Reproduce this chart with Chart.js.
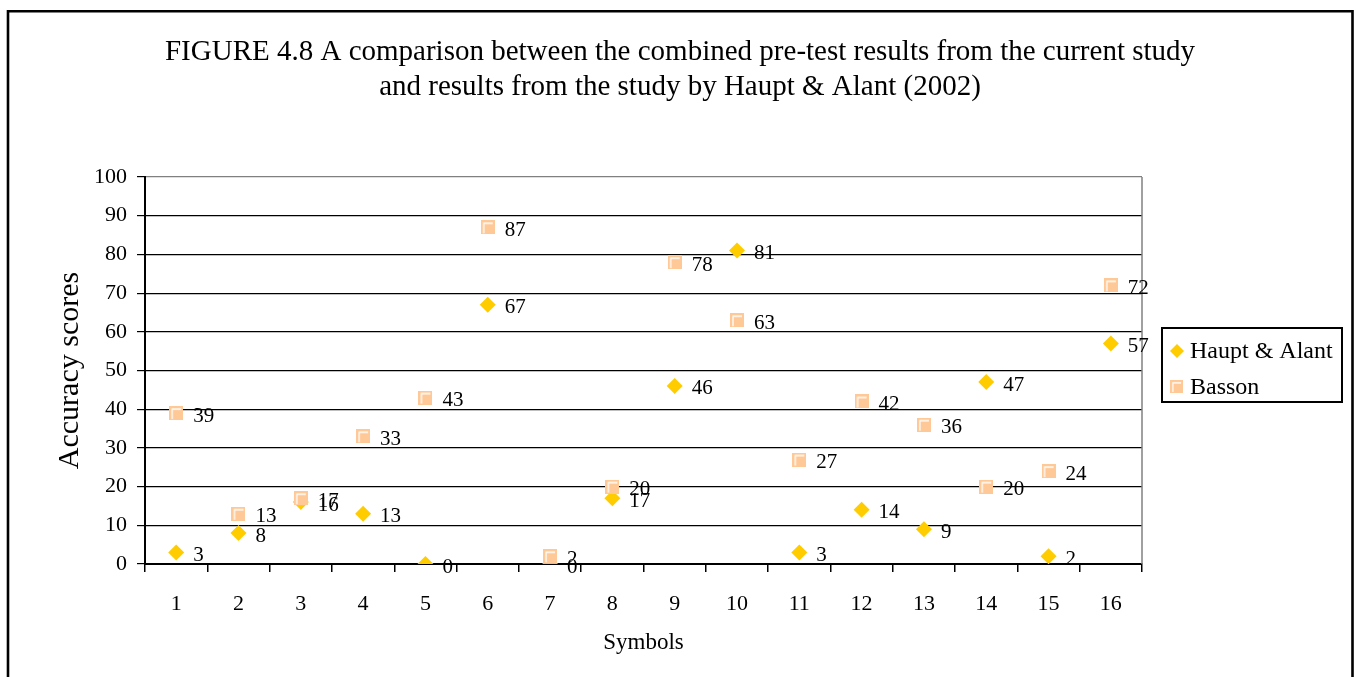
<!DOCTYPE html>
<html>
<head>
<meta charset="utf-8">
<script src="https://cdn.jsdelivr.net/npm/chart.js@4.4.0/dist/chart.umd.min.js"></script>
<style>
  html, body { margin: 0; padding: 0; background: #fff; }
  canvas { display: block; }
</style>
</head>
<body>
<canvas id="chart" width="1356" height="677"></canvas>
<script>
// data
const symbols = ['1', '2', '3', '4', '5', '6', '7', '8', '9', '10', '11', '12', '13', '14', '15', '16'];
const hauptAlant = [3, 8, 16, 13, 0, 67, 0, 17, 46, 81, 3, 14, 9, 47, 2, 57];
const basson = [39, 13, 17, 33, 43, 87, 2, 20, 78, 63, 27, 42, 36, 20, 24, 72];
const yTickValues = [0, 10, 20, 30, 40, 50, 60, 70, 80, 90, 100];
const titleLines = [
    'FIGURE 4.8 A comparison between the combined pre-test results from the current study',
    'and results from the study by Haupt & Alant (2002)'
];

const serif = '"Liberation Serif", "Times New Roman", Times, serif';

// peach square with the little white bevel line
function bassonMarker(){
    let c = document.createElement('canvas');
    c.width = 14; c.height = 14;
    let g = c.getContext('2d');
    g.fillStyle = '#FFC997';
    g.fillRect(0, 0, 14, 14);
    g.strokeStyle = '#ffffff';
    g.lineWidth = 1.3;
    g.beginPath();
    g.moveTo(3, 13);
    g.lineTo(3, 3);
    g.lineTo(12, 3);
    g.stroke();
    return c;
}
const squareImg = bassonMarker();

const pageFrame = {
    id: 'pageFrame',
    beforeDraw(chart){
        const ctx = chart.ctx;
        ctx.save();
        ctx.fillStyle = '#fff';
        ctx.fillRect(0, 0, chart.width, chart.height);
        ctx.strokeStyle = '#000';
        ctx.lineWidth = 2.6;
        ctx.beginPath();
        ctx.moveTo(8, chart.height + 2);
        ctx.lineTo(8, 11.3);
        ctx.lineTo(1352.5, 11.3);
        ctx.lineTo(1352.5, chart.height + 2);
        ctx.stroke();

        // figure title, centred on the page rather than the plot
        ctx.font = '29px ' + serif;
        ctx.fillStyle = '#000';
        ctx.textAlign = 'center';
        ctx.textBaseline = 'middle';
        titleLines.forEach((t, i) => ctx.fillText(t, 680, 52 + i * 35));
        ctx.restore();
    },
    beforeDatasetsDraw(chart){
        // grey right edge of the plot area
        const a = chart.chartArea;
        const ctx = chart.ctx;
        ctx.save();
        ctx.strokeStyle = '#808080';
        ctx.lineWidth = 1.5;
        ctx.beginPath();
        ctx.moveTo(a.right, a.top);
        ctx.lineTo(a.right, a.bottom);
        ctx.stroke();
        ctx.restore();
    }
};

const valueLabels = {
    id: 'valueLabels',
    afterDatasetsDraw(chart){
        const ctx = chart.ctx;
        ctx.save();
        ctx.font = '21px ' + serif;
        ctx.fillStyle = '#000';
        ctx.textAlign = 'left';
        ctx.textBaseline = 'middle';
        chart.data.datasets.forEach((ds, di) => {
            const meta = chart.getDatasetMeta(di);
            meta.data.forEach((pt, i) => {
                ctx.fillText(String(ds.data[i]), pt.x + 17, pt.y + 3);
            });
        });
        ctx.restore();
    }
};

const boxedLegend = {
    id: 'boxedLegend',
    afterDraw(chart){
        const ctx = chart.ctx;
        const left = 1162, top = 328, right = 1342, bottom = 402;
        ctx.save();
        ctx.strokeStyle = '#000';
        ctx.lineWidth = 2;
        ctx.strokeRect(left, top, right - left, bottom - top);
        ctx.font = '24px ' + serif;
        ctx.textBaseline = 'middle';
        chart.data.datasets.forEach((ds, i) => {
            const y = 351 + i * 36;
            if (ds.pointStyle === 'rectRot') {
                ctx.fillStyle = ds.backgroundColor;
                ctx.beginPath();
                ctx.moveTo(1177, y - 7);
                ctx.lineTo(1184, y);
                ctx.lineTo(1177, y + 7);
                ctx.lineTo(1170, y);
                ctx.closePath();
                ctx.fill();
            } else {
                ctx.drawImage(ds.pointStyle, 1170, y - 7, 13, 13);
            }
            ctx.fillStyle = '#000';
            ctx.fillText(ds.label, 1190, y + 1);
        });
        ctx.restore();
    }
};

new Chart(document.getElementById('chart'), {
    type: 'line',
    data: {
        labels: symbols,
        datasets: [
            {
                label: 'Haupt & Alant',
                data: hauptAlant,
                showLine: false,
                pointStyle: 'rectRot',
                pointRadius: 8,
                pointHoverRadius: 8,
                backgroundColor: '#FFCC00',
                borderColor: '#FFCC00',
                pointBorderWidth: 0,
                order: 1
            },
            {
                label: 'Basson',
                data: basson,
                showLine: false,
                pointStyle: squareImg,
                pointRadius: 7,
                backgroundColor: '#FFC997',
                borderColor: '#FFC997',
                order: 0
            }
        ]
    },
    options: {
        responsive: false,
        animation: false,
        events: [],
        layout: { padding: { left: 40, right: 214, top: 177, bottom: 14 } },
        plugins: {
            legend: { display: false },
            tooltip: { enabled: false },
            title: { display: false }
        },
        scales: {
            x: {
                type: 'category',
                offset: true,
                afterFit: (s) => { s.height = 99; },
                grid: {
                    display: true,
                    offset: true,
                    drawOnChartArea: false,
                    drawTicks: true,
                    tickLength: 8,
                    color: '#000',
                    lineWidth: 1.5
                },
                border: { color: '#000', width: 2 },
                ticks: {
                    color: '#000',
                    font: { family: serif, size: 22 },
                    padding: 19,
                    maxRotation: 0,
                    autoSkip: false
                },
                title: {
                    display: true,
                    text: 'Symbols',
                    color: '#000',
                    font: { family: serif, size: 23 },
                    padding: { top: 0, bottom: 6 }
                }
            },
            y: {
                min: 0,
                max: 100,
                afterFit: (s) => { s.width = 105; },
                afterBuildTicks: (s) => { s.ticks = yTickValues.map(v => ({ value: v })); },
                grid: {
                    color: (c) => (c.tick && c.tick.value === 100) ? '#808080' : '#000',
                    tickColor: '#000',
                    lineWidth: 1.2,
                    tickLength: 8
                },
                border: { color: '#000', width: 2 },
                ticks: {
                    color: '#000',
                    font: { family: serif, size: 22 },
                    padding: 10
                },
                title: {
                    display: true,
                    text: 'Accuracy scores',
                    color: '#000',
                    font: { family: serif, size: 30 },
                    padding: { top: 12, bottom: 0 }
                }
            }
        }
    },
    plugins: [pageFrame, valueLabels, boxedLegend]
});
</script>
</body>
</html>
